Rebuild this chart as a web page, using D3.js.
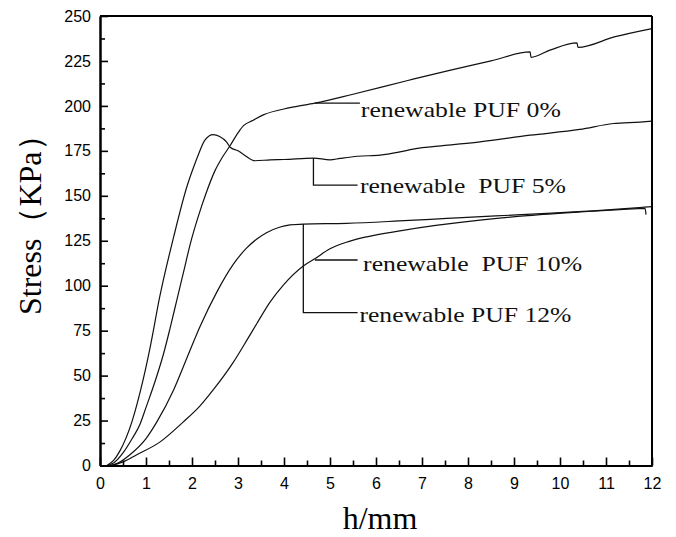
<!DOCTYPE html>
<html>
<head>
<meta charset="utf-8">
<script src="https://cdn.jsdelivr.net/npm/d3@7"></script>
<style>
  body { margin: 0; background: #fff; }
  svg { display: block; }
</style>
</head>
<body>
<div id="chart"></div>
<script>
// Stress vs displacement as [h (mm), stress (KPa)]
const puf0 = [
  [0.15, 0], [0.3, 1.5], [0.5, 7], [0.7, 15], [0.87, 23], [1.01, 33], [1.2, 47],
  [1.38, 62], [1.52, 76], [1.67, 92], [1.82, 108], [1.97, 124],
  [2.13, 138], [2.3, 151], [2.5, 164], [2.65, 171], [2.83, 178], [3.0, 185],
  [3.12, 189], [3.33, 192], [3.55, 195], [4.13, 199], [4.67, 201.5], [5.5, 206.5],
  [6.67, 214], [7.6, 219.8], [8.5, 225], [9.35, 230], [9.37, 227], [9.78, 231],
  [10.37, 235], [10.39, 232.5], [11.2, 238.5], [12, 243]
];

const puf5 = [
  [0.15, 0], [0.3, 3], [0.43, 8], [0.69, 24], [0.94, 48], [1.1, 67], [1.3, 94],
  [1.6, 127], [1.9, 156], [2.05, 167], [2.14, 173], [2.28, 181], [2.46, 184],
  [2.6, 183], [2.75, 180], [2.83, 177], [3.0, 175], [3.12, 173], [3.37, 169.5],
  [3.7, 170], [4.0, 170.2], [4.64, 171], [5.0, 170], [5.22, 170.8], [5.6, 172],
  [6.09, 172.6], [6.52, 174.4], [6.81, 176], [7.5, 178], [8.26, 180], [9.35, 183.7],
  [10.43, 186.9], [11.16, 190.2], [11.74, 191], [12, 191.5]
];

const puf12 = [
  [0.2, 0], [0.4, 1.5], [0.65, 6], [1.0, 15], [1.23, 24], [1.6, 42], [1.94, 63],
  [2.17, 77], [2.55, 97], [2.9, 112], [3.19, 121], [3.41, 126], [3.62, 129.5],
  [3.9, 132.5], [4.13, 133.8], [4.42, 134.3], [5.36, 134.7], [6.5, 136],
  [7.54, 137.4], [8.6, 138.8], [9.71, 140.2], [10.8, 141.8], [11.74, 143.5], [12, 144]
];

const puf10 = [
  [0.25, 0], [0.5, 2], [0.8, 6], [1.3, 13], [1.8, 24], [2.17, 33], [2.46, 42],
  [2.9, 57.5], [3.2, 70], [3.41, 79], [3.7, 91], [3.99, 100.5], [4.42, 111],
  [4.67, 115], [5.0, 120.5], [5.4, 124.5], [5.8, 127.2], [6.52, 130.5], [7.3, 133.5],
  [8.26, 136.5], [9.3, 139], [10.43, 141], [11.3, 142.3], [11.85, 143], [11.87, 139.5]
];

const series = [puf0, puf5, puf12, puf10];

// Annotation labels and their leader lines (data units)
const labelTexts = ["renewable PUF 0%", "renewable  PUF 5%", "renewable  PUF 10%", "renewable PUF 12%"];
const labelAnchors = [[5.67, 193.8], [5.65, 151.4], [5.72, 108.2], [5.64, 79.9]];
const labelWidths = [200, 206, 219, 212];
const leaders = [
  [[4.67, 201.5], [5.65, 201.5]],
  [[4.64, 171], [4.64, 155.9], [5.6, 155.9]],
  [[4.67, 114.3], [5.6, 114.3]],
  [[4.42, 134.3], [4.42, 85], [5.6, 85]]
];

const xMajor = d3.range(0, 13, 1);
const xMinor = d3.range(0.5, 12, 1);
const yMajor = d3.range(0, 251, 25);
const yMinor = d3.range(12.5, 250, 25);

const W = 676, H = 537;
const plotL = 100, plotR = 652, plotT = 16, plotB = 465.5;

const svg = d3.select("#chart").append("svg")
    .attr("width", W)
    .attr("height", H);

const x = d3.scaleLinear().domain([0, 12]).range([plotL, plotR]);
const y = d3.scaleLinear().domain([0, 250]).range([plotB, plotT]);

// Curves
const line = d3.line()
    .x(d => x(d[0]))
    .y(d => y(d[1]))
    .curve(d3.curveMonotoneX);

svg.selectAll(".curve")
    .data(series)
    .enter()
    .append("path")
    .attr("class", "curve")
    .attr("fill", "none")
    .attr("stroke", "#111")
    .attr("stroke-width", 1.2)
    .attr("d", line);

// Leader lines
const leaderLine = d3.line().x(d => x(d[0])).y(d => y(d[1]));
svg.selectAll(".leader")
    .data(leaders)
    .enter()
    .append("path")
    .attr("fill", "none")
    .attr("stroke", "#111")
    .attr("stroke-width", 1.3)
    .attr("d", leaderLine);

// Labels
svg.selectAll(".lbl")
    .data(labelTexts)
    .enter()
    .append("text")
    .attr("x", (d, i) => x(labelAnchors[i][0]))
    .attr("y", (d, i) => y(labelAnchors[i][1]))
    .attr("textLength", (d, i) => labelWidths[i])
    .attr("lengthAdjust", "spacingAndGlyphs")
    .style("white-space", "pre")
    .attr("font-family", "'Liberation Serif', 'Times New Roman', serif")
    .attr("font-size", 22)
    .attr("fill", "#111")
    .text(d => d);

// Axes (ticks point inward)
svg.append("g")
    .attr("transform", `translate(0,${plotB})`)
    .call(d3.axisBottom(x).tickValues(xMajor).tickSize(-8).tickSizeOuter(0).tickPadding(12.5));
svg.append("g")
    .attr("transform", `translate(0,${plotB})`)
    .call(d3.axisBottom(x).tickValues(xMinor).tickSize(-5).tickSizeOuter(0).tickFormat(""));

svg.append("g")
    .attr("transform", `translate(${plotL},0)`)
    .call(d3.axisLeft(y).tickValues(yMajor).tickSize(-8).tickSizeOuter(0).tickPadding(9));
svg.append("g")
    .attr("transform", `translate(${plotL},0)`)
    .call(d3.axisLeft(y).tickValues(yMinor).tickSize(-5).tickSizeOuter(0).tickFormat(""));

svg.selectAll(".domain").attr("stroke", "#000").attr("stroke-width", 2);
svg.selectAll(".tick line").attr("stroke", "#000").attr("stroke-width", 1.6);
svg.selectAll(".tick text")
    .attr("font-family", "'Liberation Sans', Arial, sans-serif")
    .attr("font-size", 16)
    .attr("fill", "#000");

// Top and right frame
svg.append("line")
    .attr("x1", plotL).attr("x2", plotR)
    .attr("y1", plotT).attr("y2", plotT)
    .attr("stroke", "#000").attr("stroke-width", 2);
svg.append("line")
    .attr("x1", plotR).attr("x2", plotR)
    .attr("y1", plotT).attr("y2", plotB)
    .attr("stroke", "#000").attr("stroke-width", 2);

// Axis titles
svg.append("text")
    .attr("x", 380)
    .attr("y", 529)
    .attr("text-anchor", "middle")
    .attr("font-family", "'Liberation Serif', 'Times New Roman', serif")
    .attr("font-size", 32)
    .text("h/mm");

svg.append("text")
    .attr("transform", "translate(41,315) rotate(-90)")
    .attr("text-anchor", "start")
    .attr("font-family", "'Liberation Serif', 'Times New Roman', serif")
    .attr("font-size", 32)
    .text("Stress（KPa）");
</script>
</body>
</html>
